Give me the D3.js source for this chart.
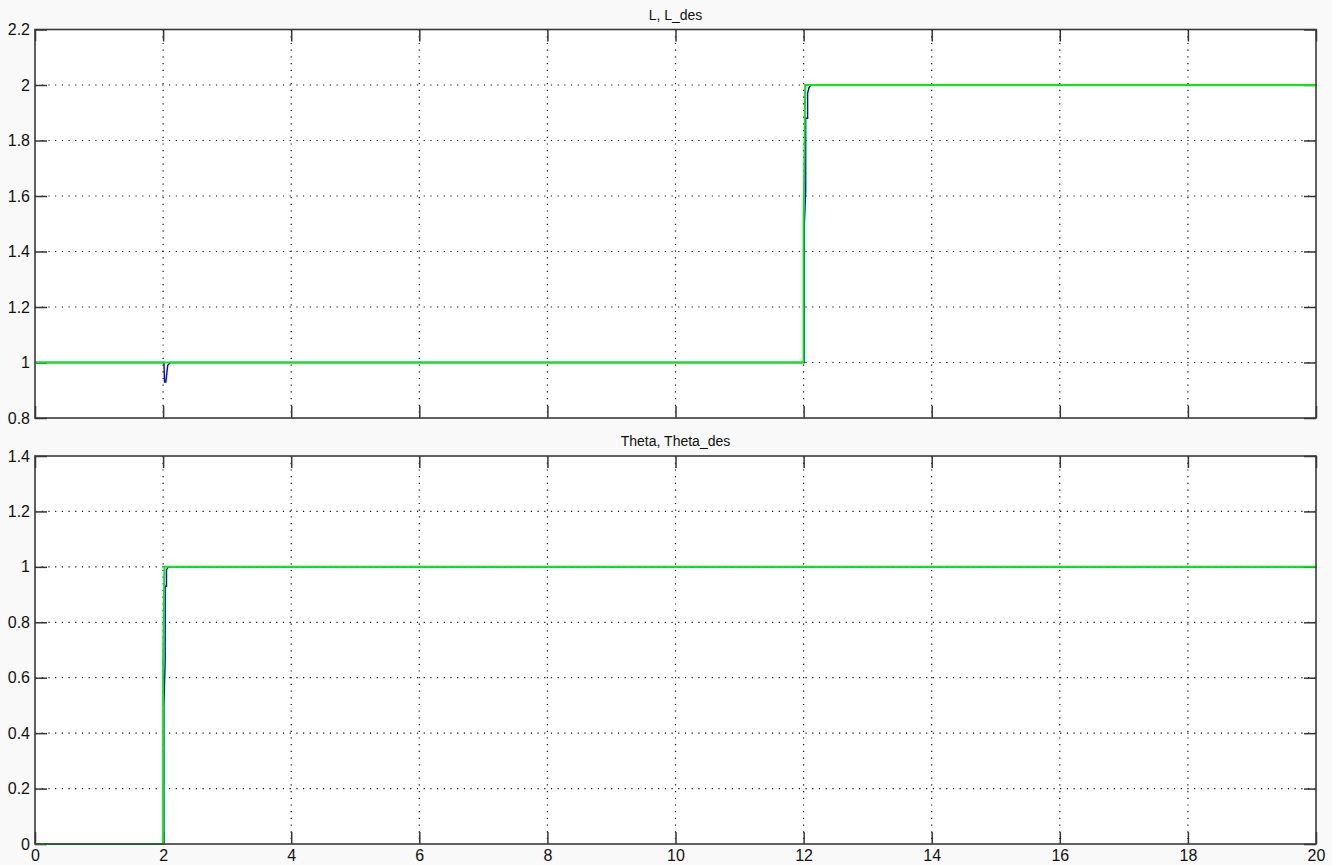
<!DOCTYPE html>
<html lang="en">
<head>
    <meta charset="UTF-8">
    <title>L, Theta step response</title>
    <script src="https://d3js.org/d3.v7.min.js"></script>
    <style>
        body {
            margin: 0;
            background-color: #f9f9f9;
            font-family: 'Liberation Sans', Arial, sans-serif;
        }
        .tick text {
            font-size: 16px;
            fill: #111;
        }
        .tick line {
            stroke: #333;
            stroke-width: 1.5;
        }
        .domain {
            display: none;
        }
        .grid line {
            stroke: #111;
            stroke-width: 1.2;
            stroke-dasharray: 1.2, 5.5;
        }
        .title {
            font-size: 14px;
            fill: #111;
            text-anchor: middle;
        }
    </style>
</head>
<body>
    <svg width="1332" height="865"></svg>

    <script>
        // x ticks shared by both plots
        const xTicks = [0, 2, 4, 6, 8, 10, 12, 14, 16, 18, 20];

        // top plot: L (blue) and L_des (green)
        const lTicks = [0.8, 1, 1.2, 1.4, 1.6, 1.8, 2, 2.2];
        const lTime = [0, 2, 2.01, 2.03, 2.06, 2.1, 12, 12, 12.02, 12.02, 12.05, 12.05, 12.07, 12.1, 20];
        const lValue = [1, 1, 0.93, 0.93, 0.99, 1, 1, 1.5, 1.62, 1.88, 1.88, 1.97, 1.99, 2, 2];
        const lDesTime = [0, 12, 12, 12.025, 20];
        const lDesValue = [1, 1, 1.5, 2, 2];

        // bottom plot: Theta (blue) and Theta_des (green)
        const thTicks = [0, 0.2, 0.4, 0.6, 0.8, 1, 1.2, 1.4];
        const thTime = [0, 2, 2, 2.02, 2.02, 2.04, 2.04, 2.07, 20];
        const thValue = [0, 0, 0.5, 0.66, 0.93, 0.93, 0.99, 1, 1];
        const thDesTime = [0, 2, 2, 2.02, 20];
        const thDesValue = [0, 0, 0.66, 1, 1];

        const svg = d3.select("svg");
        const left = 35, right = 1316;

        const x = d3.scaleLinear().domain([0, 20]).range([left, right]);

        function zip(t, v) {
            return t.map((d, i) => [d, v[i]]);
        }

        function drawPanel(cfg) {
            const y = d3.scaleLinear().domain(cfg.yDomain).range([cfg.bottom, cfg.top]);
            const g = svg.append("g");

            g.append("rect")
                .attr("x", left).attr("y", cfg.top)
                .attr("width", right - left).attr("height", cfg.bottom - cfg.top)
                .attr("fill", "#ffffff");

            // dotted grid
            const grid = g.append("g").attr("class", "grid");
            grid.selectAll(".gx")
                .data(xTicks.slice(1, -1))
                .enter().append("line")
                .attr("x1", d => x(d)).attr("x2", d => x(d))
                .attr("y1", cfg.top).attr("y2", cfg.bottom);
            grid.selectAll(".gy")
                .data(cfg.yTicks.slice(1, -1))
                .enter().append("line")
                .attr("x1", left).attr("x2", right)
                .attr("y1", d => y(d)).attr("y2", d => y(d));

            // inward ticks on all four sides
            g.append("g")
                .attr("transform", `translate(${left},0)`)
                .call(d3.axisLeft(y).tickValues(cfg.yTicks).tickSize(-12).tickPadding(5)
                    .tickFormat(d3.format("")));
            g.append("g")
                .attr("transform", `translate(${right},0)`)
                .call(d3.axisRight(y).tickValues(cfg.yTicks).tickSize(-12).tickFormat(""));
            g.append("g")
                .attr("transform", `translate(0,${cfg.top})`)
                .call(d3.axisTop(x).tickValues(xTicks).tickSize(-12).tickFormat(""));
            g.append("g")
                .attr("transform", `translate(0,${cfg.bottom})`)
                .call(d3.axisBottom(x).tickValues(xTicks).tickSize(-12).tickPadding(6)
                    .tickFormat(cfg.xLabels ? d3.format("") : ""));

            const line = d3.line().x(d => x(d[0])).y(d => y(d[1]));

            // measured signal underneath, desired signal on top
            g.append("path")
                .datum(zip(cfg.time, cfg.value))
                .attr("d", line)
                .attr("fill", "none")
                .attr("stroke", "#0000ff")
                .attr("stroke-width", 1.4)
                .attr("transform", "translate(0.8,0)");

            g.append("path")
                .datum(zip(cfg.desTime, cfg.desValue))
                .attr("d", line)
                .attr("fill", "none")
                .attr("stroke", "#00f000")
                .attr("stroke-width", 2);

            // frame
            g.append("rect")
                .attr("x", left).attr("y", cfg.top)
                .attr("width", right - left).attr("height", cfg.bottom - cfg.top)
                .attr("fill", "none")
                .attr("stroke", "#3a3a3a")
                .attr("stroke-width", 1.6);

            g.append("text")
                .attr("class", "title")
                .attr("x", (left + right) / 2)
                .attr("y", cfg.top - 10)
                .text(cfg.title);
        }

        drawPanel({
            title: "L, L_des", top: 29.5, bottom: 418, yDomain: [0.8, 2.2], yTicks: lTicks,
            time: lTime, value: lValue, desTime: lDesTime, desValue: lDesValue, xLabels: false
        });

        drawPanel({
            title: "Theta, Theta_des", top: 456, bottom: 844, yDomain: [0, 1.4], yTicks: thTicks,
            time: thTime, value: thValue, desTime: thDesTime, desValue: thDesValue, xLabels: true
        });
    </script>
</body>
</html>
